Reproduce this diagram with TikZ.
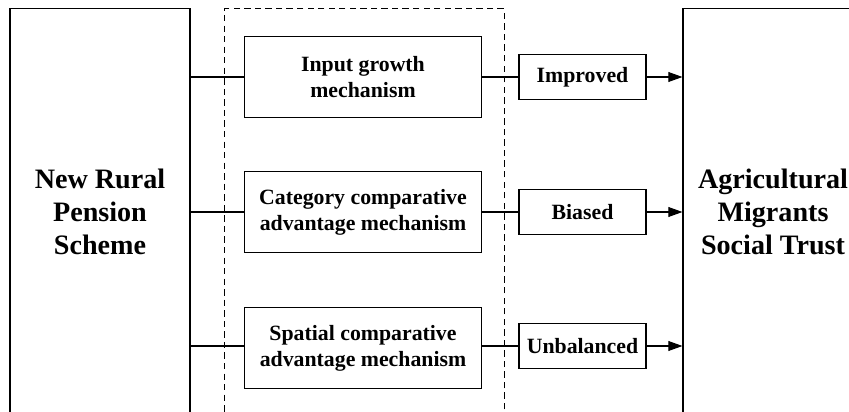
\documentclass[tikz,border=0pt]{standalone}
\usepackage{fontspec}
\setmainfont{Liberation Serif}
\usetikzlibrary{positioning, arrows.meta}

\begin{document}
\begin{tikzpicture}[
    x=0.025cm, y=-0.025cm,
    box/.style={rectangle, draw=black, line width=0.75pt, align=center,
                inner sep=2pt, font=\bfseries\fontsize{15.5}{18.5}\selectfont},
    side/.style={box, minimum width=4.5cm, minimum height=10.15cm,
                 font=\bfseries\fontsize{20}{23.6}\selectfont},
    mech/.style={box, minimum width=5.9cm, minimum height=2.025cm},
    effect/.style={box, minimum width=3.175cm, minimum height=1.125cm},
    group/.style={rectangle, draw=black, line width=0.75pt, dash pattern=on 4.5pt off 3pt,
                  minimum width=6.975cm, minimum height=10.15cm},
    >={Triangle[length=10pt,width=7pt]},
    line width=0.75pt
]

%% --- Cadru ---
\useasboundingbox (0,0) rectangle (849,412);
\clip (0,0) rectangle (849,412);

%% --- Cauza si efect ---
\node[side] (nrps) at (100,212) {New Rural\\Pension\\Scheme};
\node[side] (amst) at (773,212) {Agricultural\\Migrants\\Social Trust};

%% --- Mecanisme ---
\node[group] (mechs) at (364.5,212) {};
\node[mech] (input)    at (363,77)  {Input growth\\mechanism};
\node[mech] (category) at (363,212) {Category comparative\\advantage mechanism};
\node[mech] (spatial)  at (363,348) {Spatial comparative\\advantage mechanism};

%% --- Efecte ---
\node[effect] (improved)   at (582.5,77)  {Improved};
\node[effect] (biased)     at (582.5,212) {Biased};
\node[effect] (unbalanced) at (582.5,346) {Unbalanced};

%% --- Legaturi ---
\draw (nrps.east |- input)      -- (input);
\draw (nrps.east |- category)   -- (category);
\draw (nrps.east |- unbalanced) -- (spatial.west |- unbalanced);

\draw (input)    -- (improved);
\draw (category) -- (biased);
\draw (spatial.east |- unbalanced) -- (unbalanced);

\draw[->] (improved)   -- (improved -| amst.west);
\draw[->] (biased)     -- (biased -| amst.west);
\draw[->] (unbalanced) -- (unbalanced -| amst.west);

\end{tikzpicture}
\end{document}
